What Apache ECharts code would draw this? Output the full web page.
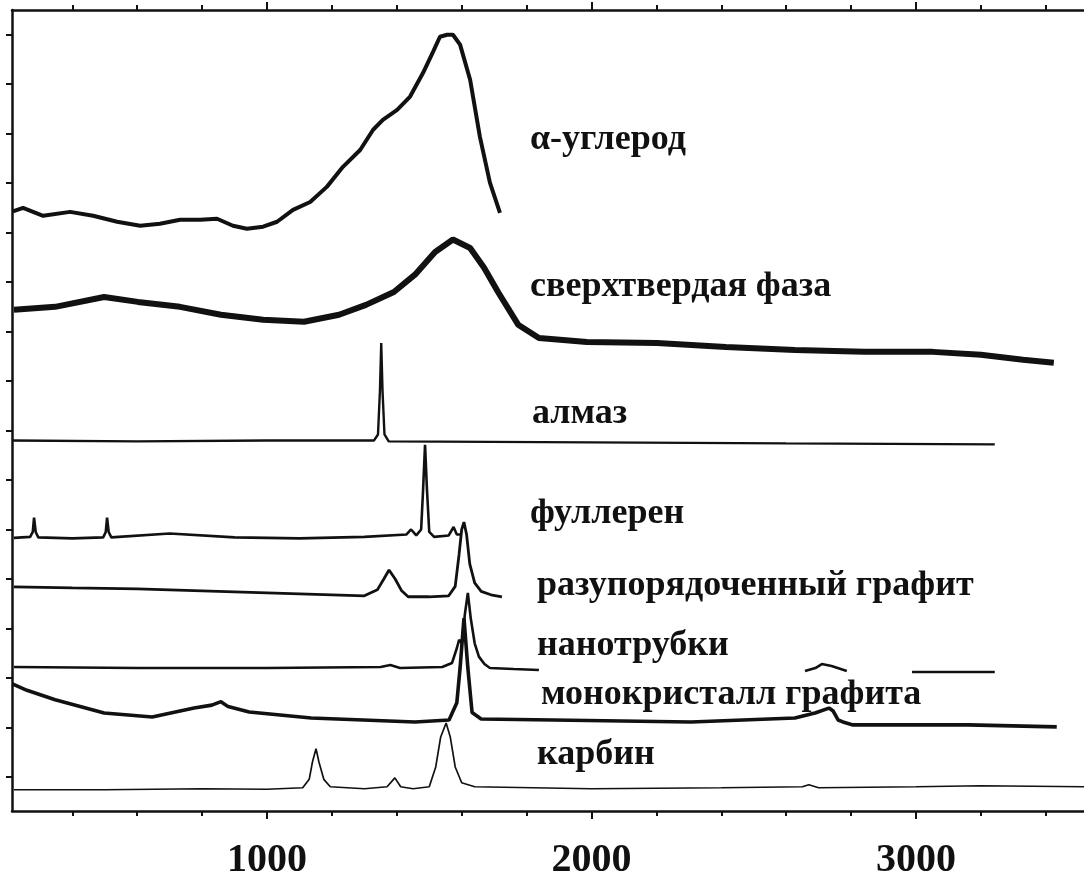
<!doctype html>
<html lang="ru">
<head>
<meta charset="UTF-8">
<title>Спектры КР углеродных фаз</title>
<script src="https://cdn.jsdelivr.net/npm/echarts@6/dist/echarts.min.js"></script>
<style>
    html, body { margin: 0; padding: 0; background: #fff; }
    #chart { width: 1084px; height: 881px; }
</style>
</head>
<body>
<div id="chart"></div>
<script>
// волновое число (см-1), интенсивность в делениях оси (отн. ед.)
var alphaCarbon = [[217,11.43],[248,11.50],[310,11.34],[393,11.42],[464,11.34],[538,11.22],[609,11.14],[670,11.18],[732,11.26],[794,11.26],[846,11.28],[895,11.14],[938,11.08],[988,11.12],[1031,11.22],[1080,11.46],[1133,11.62],[1185,11.93],[1234,12.33],[1287,12.67],[1327,13.08],[1357,13.28],[1401,13.48],[1441,13.75],[1481,14.23],[1512,14.66],[1533,14.96],[1555,15.00],[1573,15.00],[1595,14.80],[1626,14.09],[1656,12.94],[1687,12.01],[1718,11.40]];
var superhardPhase = [[220,9.44],[347,9.50],[498,9.70],[602,9.60],[732,9.50],[858,9.34],[988,9.24],[1114,9.20],[1222,9.34],[1305,9.54],[1391,9.80],[1456,10.15],[1518,10.61],[1573,10.86],[1626,10.69],[1669,10.29],[1712,9.80],[1774,9.14],[1838,8.87],[1986,8.79],[2202,8.77],[2414,8.69],[2627,8.63],[2840,8.59],[3052,8.59],[3200,8.53],[3330,8.43],[3425,8.37]];
var diamond = [[214,6.80],[600,6.78],[1000,6.80],[1330,6.80],[1342,6.92],[1348,7.8],[1352,8.77],[1356,7.8],[1362,6.92],[1375,6.78],[2000,6.76],[2600,6.74],[3243,6.72]];
var fullerene = [[220,4.83],[270,4.85],[278,4.95],[282,5.24],[287,4.95],[295,4.84],[400,4.82],[495,4.84],[503,4.95],[507,5.24],[512,4.95],[520,4.84],[700,4.92],[900,4.84],[1100,4.82],[1300,4.85],[1430,4.90],[1444,5.00],[1460,4.88],[1475,5.00],[1481,5.8],[1487,6.71],[1493,5.8],[1500,4.95],[1515,4.85],[1560,4.88],[1575,5.05],[1585,4.90],[1601,4.90]];
var disorderedGraphite = [[220,3.84],[400,3.82],[600,3.80],[800,3.76],[1000,3.72],[1200,3.68],[1300,3.66],[1340,3.78],[1360,4.00],[1376,4.18],[1395,4.00],[1415,3.76],[1435,3.64],[1500,3.64],[1560,3.66],[1580,3.85],[1592,4.50],[1600,5.00],[1607,5.15],[1615,4.90],[1625,4.30],[1640,3.92],[1660,3.75],[1690,3.68],[1724,3.64]];
var nanotubes = [[220,2.22],[600,2.20],[1000,2.20],[1350,2.22],[1380,2.26],[1410,2.20],[1540,2.22],[1570,2.30],[1585,2.60],[1592,2.77],[1600,2.70],[1610,3.30],[1619,3.72],[1628,3.20],[1640,2.70],[1653,2.43],[1670,2.28],[1687,2.20],[1760,2.18],[1838,2.16],[2000,null],[2658,2.14],[2690,2.20],[2710,2.28],[2740,2.24],[2787,2.14],[2900,null],[2988,2.12],[3243,2.12]];
var graphiteCrystal = [[215,1.88],[260,1.75],[347,1.56],[498,1.29],[646,1.21],[775,1.39],[830,1.45],[858,1.52],[880,1.42],[945,1.31],[1136,1.19],[1456,1.11],[1561,1.15],[1585,1.50],[1595,2.20],[1607,3.21],[1619,2.20],[1632,1.30],[1660,1.17],[1881,1.15],[2307,1.11],[2627,1.19],[2689,1.29],[2732,1.39],[2745,1.33],[2760,1.15],[2775,1.11],[2806,1.05],[3160,1.05],[3434,1.01]];
var carbyne = [[220,-0.26],[500,-0.26],[800,-0.24],[1000,-0.25],[1110,-0.22],[1130,-0.05],[1140,0.30],[1151,0.57],[1160,0.30],[1175,-0.05],[1195,-0.20],[1300,-0.24],[1370,-0.20],[1394,-0.02],[1412,-0.20],[1450,-0.24],[1500,-0.20],[1520,0.20],[1535,0.80],[1552,1.09],[1565,0.80],[1580,0.20],[1600,-0.12],[1640,-0.20],[2000,-0.24],[2400,-0.22],[2650,-0.20],[2670,-0.16],[2700,-0.22],[3000,-0.20],[3200,-0.18],[3518,-0.20]];

var phaseNames = ['α-углерод', 'сверхтвердая фаза', 'алмаз', 'фуллерен', 'разупорядоченный графит', 'нанотрубки', 'монокристалл графита', 'карбин'];
var majorTicks = [1000, 2000, 3000];
var minorTicks = [400, 600, 800, 1200, 1400, 1600, 1800, 2200, 2400, 2600, 2800, 3200, 3400];
var yTicks = [0, 1, 2, 3, 4, 5, 6, 7, 8, 9, 10, 11, 12, 13, 14, 15];

var seriesData = [alphaCarbon, superhardPhase, diamond, fullerene, disorderedGraphite, nanotubes, graphiteCrystal, carbyne];
var lineWidths = [4, 6, 2.4, 2.6, 2.8, 2.6, 3.6, 1.7];
// положение подписей в пикселях (левый край, середина строки)
var labelPos = [[530, 140], [530, 287], [532, 414], [530, 514], [537, 586], [537, 646], [541, 695], [537, 755]];

var chart = echarts.init(document.getElementById('chart'));

function xAxisOpt(pos, ticks, len, showLine, showLabel) {
    return {
        type: 'value', position: pos, min: 214, max: 3518,
        axisLine: { show: showLine, onZero: false, lineStyle: { color: '#111', width: 2.5 } },
        axisTick: { show: true, customValues: ticks, length: len, lineStyle: { color: '#111', width: 2 } },
        axisLabel: {
            show: showLabel, customValues: majorTicks, margin: 30,
            formatter: function (v) { return String(v); },
            color: '#111', fontFamily: 'Liberation Serif', fontWeight: 'bold', fontSize: 40
        },
        splitLine: { show: false }
    };
}

var series = seriesData.map(function (d, i) {
    return {
        name: phaseNames[i], type: 'line', data: d, xAxisIndex: 0, yAxisIndex: 0,
        showSymbol: false, symbol: 'none', connectNulls: false, silent: true,
        lineStyle: { color: '#111', width: lineWidths[i] }
    };
});

var texts = phaseNames.map(function (n, i) {
    return {
        type: 'text', x: labelPos[i][0], y: labelPos[i][1], silent: true,
        style: {
            text: n, fill: '#111', font: 'bold 36px "Liberation Serif"',
            align: 'left', verticalAlign: 'middle'
        }
    };
});

chart.setOption({
    animation: false,
    backgroundColor: '#fff',
    grid: { left: 12, top: 10, right: 0, bottom: 70, containLabel: false },
    xAxis: [
        xAxisOpt('bottom', majorTicks, 8, true, true),
        xAxisOpt('bottom', minorTicks, 5, false, false),
        xAxisOpt('top', majorTicks, 8, true, false),
        xAxisOpt('top', minorTicks, 5, false, false)
    ],
    yAxis: {
        type: 'value', min: -0.69, max: 15.5,
        axisLine: { show: true, lineStyle: { color: '#111', width: 2.5 } },
        axisTick: { show: true, customValues: yTicks, length: 6, lineStyle: { color: '#111', width: 2 } },
        axisLabel: { show: false },
        splitLine: { show: false }
    },
    graphic: texts,
    series: series
});
</script>
</body>
</html>
